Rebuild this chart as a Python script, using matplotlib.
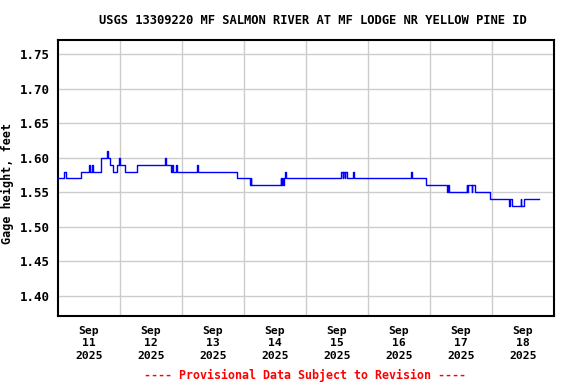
import matplotlib
matplotlib.use("Agg")
import matplotlib.pyplot as plt
import matplotlib.dates as mdates
import numpy as np
import pandas as pd

# Step change points: days after 2025-09-11 00:00, gage height (ft)
change_days = [0.00, 0.10, 0.13, 0.37, 0.50, 0.515, 0.545, 0.56, 0.69, 0.70,
               0.79, 0.80, 0.84, 0.89, 0.955, 0.985, 0.995, 1.08, 1.27, 1.72,
               1.735, 1.83, 1.845, 1.855, 1.90, 1.915, 2.24, 2.25, 2.88, 3.10,
               3.105, 3.115, 3.59, 3.60, 3.62, 3.63, 3.645, 3.66, 3.67, 4.56,
               4.59, 4.60, 4.63, 4.635, 4.66, 4.76, 4.78, 5.70, 5.715, 5.94,
               6.28, 6.295, 6.31, 6.59, 6.60, 6.61, 6.67, 6.68, 6.72, 6.96,
               7.28, 7.295, 7.33, 7.46, 7.47, 7.51, 7.75]
gage_ft = [1.57, 1.58, 1.57, 1.58, 1.59, 1.58, 1.59, 1.58, 1.59, 1.60,
           1.61, 1.60, 1.59, 1.58, 1.59, 1.60, 1.59, 1.58, 1.59, 1.60,
           1.59, 1.58, 1.59, 1.58, 1.59, 1.58, 1.59, 1.58, 1.57, 1.56,
           1.57, 1.56, 1.57, 1.56, 1.57, 1.56, 1.57, 1.58, 1.57, 1.58,
           1.57, 1.58, 1.57, 1.58, 1.57, 1.58, 1.57, 1.58, 1.57, 1.56,
           1.55, 1.56, 1.55, 1.56, 1.55, 1.56, 1.55, 1.56, 1.55, 1.54,
           1.53, 1.54, 1.53, 1.54, 1.53, 1.54, 1.54]
day_labels = ["Sep\n11\n2025", "Sep\n12\n2025", "Sep\n13\n2025", "Sep\n14\n2025",
              "Sep\n15\n2025", "Sep\n16\n2025", "Sep\n17\n2025", "Sep\n18\n2025"]
y_ticks = [1.40, 1.45, 1.50, 1.55, 1.60, 1.65, 1.70, 1.75]

title = "USGS 13309220 MF SALMON RIVER AT MF LODGE NR YELLOW PINE ID"
ylabel = "Gage height, feet"
footer = "---- Provisional Data Subject to Revision ----"

start = pd.Timestamp("2025-09-11 00:00")
times = [start + pd.Timedelta(days=d) for d in change_days]

plt.rcParams['font.family'] = ['DejaVu Sans Mono']
plt.rcParams['font.weight'] = 'bold'

fig = plt.figure(figsize=(5.76, 3.84), dpi=100)
ax = fig.add_axes([58/576, 1 - 316/384, 496/576, 276/384])

ax.plot(times, gage_ft, drawstyle='steps-post', color='#0000ff', linewidth=1.0, zorder=3)

ax.set_xlim(start, start + pd.Timedelta(days=8))
ax.set_ylim(1.3706, 1.7708)

noon_ticks = [start + pd.Timedelta(hours=12 + 24 * i) for i in range(8)]
mid_ticks = [start + pd.Timedelta(days=i) for i in range(1, 8)]
ax.set_xticks(noon_ticks)
ax.set_xticklabels(day_labels, fontsize=8.2, fontweight='bold', linespacing=1.3)
ax.set_xticks(mid_ticks, minor=True)
ax.set_yticks(y_ticks)
ax.set_yticklabels([f"{v:.2f}" for v in y_ticks], fontsize=9, fontweight='bold')
ax.tick_params(axis='both', which='both', length=0)
ax.tick_params(axis='x', pad=7)
ax.tick_params(axis='y', pad=5.5)

ax.grid(True, which='minor', axis='x', color='#cccccc', linewidth=1.0)
ax.grid(True, which='major', axis='y', color='#cccccc', linewidth=1.0)
ax.set_axisbelow(True)
for s in ax.spines.values():
    s.set_color('black')
    s.set_linewidth(1.5)

ax.set_ylabel(ylabel, fontsize=8.5, fontweight='bold')
ax.yaxis.set_label_coords(-0.088, 0.48)
fig.text(313/576, 1 - 20/384, title, ha='center', va='center', fontsize=8.7, fontweight='bold')
fig.text(305/576, 1 - 375/384, footer, ha='center', va='center', fontsize=8.4,
         fontweight='bold', color='#ff0000')

fig.savefig("out.png", dpi=100)
